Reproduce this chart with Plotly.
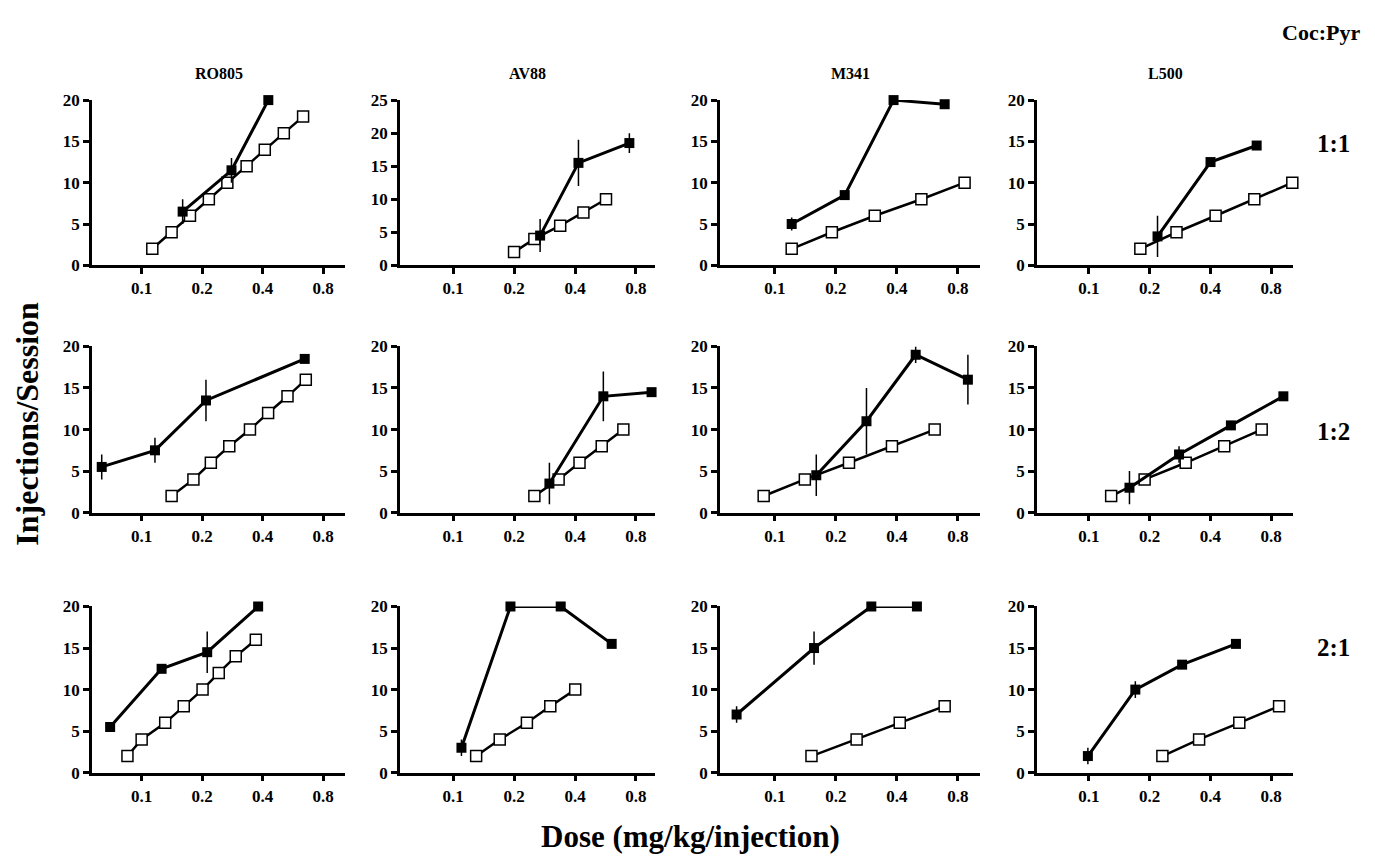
import plotly.graph_objects as go

# ---------------- data ----------------
strains = ["RO805", "AV88", "M341", "L500"]
ratios = ["1:1", "1:2", "2:1"]
x_ticks = [0.1, 0.2, 0.4, 0.8]
x_tick_labels = ["0.1", "0.2", "0.4", "0.8"]

# Row 1:1
RO805_11_open_x = [0.113, 0.141, 0.174, 0.216, 0.267, 0.333, 0.410, 0.510, 0.636]
RO805_11_open_y = [2, 4, 6, 8, 10, 12, 14, 16, 18]
RO805_11_fill_x = [0.160, 0.280, 0.427]
RO805_11_fill_y = [6.5, 11.5, 20]
RO805_11_fill_e = [1.5, 1.5, 0]

AV88_11_open_x = [0.200, 0.252, 0.338, 0.440, 0.569]
AV88_11_open_y = [2, 4, 6, 8, 10]
AV88_11_fill_x = [0.269, 0.416, 0.742]
AV88_11_fill_y = [4.5, 15.5, 18.5]
AV88_11_fill_e = [2.5, 3.5, 1.5]

M341_11_open_x = [0.121, 0.191, 0.311, 0.528, 0.863]
M341_11_open_y = [2, 4, 6, 8, 10]
M341_11_fill_x = [0.121, 0.221, 0.385, 0.688]
M341_11_fill_y = [5, 8.5, 20, 19.5]
M341_11_fill_e = [0.8, 0, 0, 0]

L500_11_open_x = [0.180, 0.272, 0.425, 0.661, 1.02]
L500_11_open_y = [2, 4, 6, 8, 10]
L500_11_fill_x = [0.219, 0.401, 0.679]
L500_11_fill_y = [3.5, 12.5, 14.5]
L500_11_fill_e = [2.5, 0, 0]

# Row 1:2
RO805_12_open_x = [0.141, 0.181, 0.221, 0.273, 0.346, 0.426, 0.532, 0.656]
RO805_12_open_y = [2, 4, 6, 8, 10, 12, 14, 16]
RO805_12_fill_x = [0.0633, 0.1165, 0.209, 0.648]
RO805_12_fill_y = [5.5, 7.5, 13.5, 18.5]
RO805_12_fill_e = [1.5, 1.5, 2.5, 0]

AV88_12_open_x = [0.252, 0.332, 0.421, 0.542, 0.693]
AV88_12_open_y = [2, 4, 6, 8, 10]
AV88_12_fill_x = [0.299, 0.552, 0.955]
AV88_12_fill_y = [3.5, 14, 14.5]
AV88_12_fill_e = [2.5, 3, 0]

M341_12_open_x = [0.088, 0.1405, 0.232, 0.378, 0.614]
M341_12_open_y = [2, 4, 6, 8, 10]
M341_12_fill_x = [0.160, 0.283, 0.495, 0.896]
M341_12_fill_y = [4.5, 11, 19, 16]
M341_12_fill_e = [2.5, 4, 1, 3]

L500_12_open_x = [0.129, 0.189, 0.302, 0.469, 0.719]
L500_12_open_y = [2, 4, 6, 8, 10]
L500_12_fill_x = [0.159, 0.280, 0.506, 0.921]
L500_12_fill_y = [3, 7, 10.5, 14]
L500_12_fill_e = [2, 1, 0, 0]

# Row 2:1
RO805_21_open_x = [0.085, 0.100, 0.131, 0.162, 0.201, 0.242, 0.294, 0.370]
RO805_21_open_y = [2, 4, 6, 8, 10, 12, 14, 16]
RO805_21_fill_x = [0.0697, 0.1257, 0.212, 0.380]
RO805_21_fill_y = [5.5, 12.5, 14.5, 20]
RO805_21_fill_e = [0, 0, 2.5, 0]

AV88_21_open_x = [0.130, 0.170, 0.2315, 0.302, 0.401]
AV88_21_open_y = [2, 4, 6, 8, 10]
AV88_21_fill_x = [0.110, 0.192, 0.340, 0.607]
AV88_21_fill_y = [3, 20, 20, 15.5]
AV88_21_fill_e = [1, 0, 0, 0]

M341_21_open_x = [0.1515, 0.253, 0.413, 0.688]
M341_21_open_y = [2, 4, 6, 8]
M341_21_fill_x = [0.0647, 0.156, 0.299, 0.502]
M341_21_fill_y = [7, 15, 20, 20]
M341_21_fill_e = [1, 2, 0, 0]

L500_21_open_x = [0.2315, 0.352, 0.557, 0.877]
L500_21_open_y = [2, 4, 6, 8]
L500_21_fill_x = [0.0989, 0.170, 0.290, 0.536]
L500_21_fill_y = [2, 10, 13, 15.5]
L500_21_fill_e = [1, 1, 0, 0]

panels = [
    [(RO805_11_open_x, RO805_11_open_y, RO805_11_fill_x, RO805_11_fill_y, RO805_11_fill_e),
     (AV88_11_open_x, AV88_11_open_y, AV88_11_fill_x, AV88_11_fill_y, AV88_11_fill_e),
     (M341_11_open_x, M341_11_open_y, M341_11_fill_x, M341_11_fill_y, M341_11_fill_e),
     (L500_11_open_x, L500_11_open_y, L500_11_fill_x, L500_11_fill_y, L500_11_fill_e)],
    [(RO805_12_open_x, RO805_12_open_y, RO805_12_fill_x, RO805_12_fill_y, RO805_12_fill_e),
     (AV88_12_open_x, AV88_12_open_y, AV88_12_fill_x, AV88_12_fill_y, AV88_12_fill_e),
     (M341_12_open_x, M341_12_open_y, M341_12_fill_x, M341_12_fill_y, M341_12_fill_e),
     (L500_12_open_x, L500_12_open_y, L500_12_fill_x, L500_12_fill_y, L500_12_fill_e)],
    [(RO805_21_open_x, RO805_21_open_y, RO805_21_fill_x, RO805_21_fill_y, RO805_21_fill_e),
     (AV88_21_open_x, AV88_21_open_y, AV88_21_fill_x, AV88_21_fill_y, AV88_21_fill_e),
     (M341_21_open_x, M341_21_open_y, M341_21_fill_x, M341_21_fill_y, M341_21_fill_e),
     (L500_21_open_x, L500_21_open_y, L500_21_fill_x, L500_21_fill_y, L500_21_fill_e)],
]

# ---------------- layout ----------------
# The page body has an 8px margin, so the figure is 16px smaller and all
# page-pixel positions below are shifted by OFF.
PAGE_W, PAGE_H = 1375, 864
OFF = 8
W, H = PAGE_W - 2 * OFF, PAGE_H - 2 * OFF
FONT = "Liberation Serif"
col_px = [(92, 345), (400, 655), (720, 980), (1037, 1293)]
row_px = [(93, 262), (345, 515), (611, 781)]
x_ranges = [(-1.247, 0.012), (-1.262, -0.003), (-1.271, 0.012), (-1.257, 0.012)]
ratio_y_px = [137, 432, 653]


def fx_(px):
    return (px - OFF) / W


def fy_(py):
    return 1 - (py - OFF) / H


tick_font = dict(family=FONT, size=17, color="black", weight="bold")

fig = go.Figure()
layout = dict(
    width=W, height=H,
    margin=dict(l=0, r=0, t=0, b=0),
    paper_bgcolor="white", plot_bgcolor="white",
    showlegend=False,
    font=dict(family=FONT, color="black"),
)

for r in range(3):
    for c in range(4):
        k = r * 4 + c + 1
        xn = "x" if k == 1 else f"x{k}"
        yn = "y" if k == 1 else f"y{k}"
        ox, oy, fx, fy, fe = panels[r][c]
        fig.add_trace(go.Scatter(
            x=ox, y=oy, xaxis=xn, yaxis=yn, mode="lines+markers",
            line=dict(color="black", width=2.5),
            marker=dict(symbol="square", size=11, color="white",
                        line=dict(color="black", width=1.5)),
            cliponaxis=False,
        ))
        fig.add_trace(go.Scatter(
            x=fx, y=fy, xaxis=xn, yaxis=yn, mode="lines+markers",
            line=dict(color="black", width=3),
            marker=dict(symbol="square", size=10, color="black"),
            error_y=dict(type="data", array=fe, visible=True, width=0,
                         thickness=1.5, color="black"),
            cliponaxis=False,
        ))
        x0, x1 = col_px[c]
        y0, y1 = row_px[r]
        ymax = 25 if (r == 0 and c == 1) else 20
        axkey = "xaxis" if k == 1 else f"xaxis{k}"
        aykey = "yaxis" if k == 1 else f"yaxis{k}"
        layout[axkey] = dict(
            domain=[fx_(x0), fx_(x1)], anchor=yn, type="log",
            range=list(x_ranges[c]),
            tickvals=x_ticks, ticktext=x_tick_labels,
            showline=True, linecolor="black", linewidth=2.5,
            ticks="outside", ticklen=6, tickwidth=2.5, tickcolor="black",
            showgrid=False, zeroline=False, tickfont=tick_font,
        )
        layout[aykey] = dict(
            domain=[fy_(y1), fy_(y0)], anchor=xn,
            range=[0, ymax], tickmode="linear", tick0=0, dtick=5,
            showline=True, linecolor="black", linewidth=2.5,
            ticks="outside", ticklen=6, tickwidth=2.5, tickcolor="black",
            showgrid=False, zeroline=False, tickfont=tick_font,
        )

annotations = []
for c, name in enumerate(strains):
    x0, x1 = col_px[c]
    annotations.append(dict(
        text=name, x=fx_((x0 + x1) / 2), y=fy_(66), xref="paper", yref="paper",
        showarrow=False, xanchor="center", yanchor="middle",
        font=dict(family=FONT, size=16, color="black", weight="bold"),
    ))
for r, rt in enumerate(ratios):
    annotations.append(dict(
        text=rt, x=fx_(1333), y=fy_(ratio_y_px[r]), xref="paper", yref="paper",
        showarrow=False, xanchor="center", yanchor="middle",
        font=dict(family=FONT, size=25, color="black", weight="bold"),
    ))
annotations.append(dict(
    text="Coc:Pyr", x=fx_(1362), y=fy_(24), xref="paper", yref="paper",
    showarrow=False, xanchor="right", yanchor="middle",
    font=dict(family=FONT, size=22, color="black", weight="bold"),
))
annotations.append(dict(
    text="Injections/Session", x=fx_(27), y=fy_(424), xref="paper", yref="paper",
    showarrow=False, xanchor="center", yanchor="middle", textangle=-90,
    font=dict(family=FONT, size=32, color="black", weight="bold"),
))
annotations.append(dict(
    text="Dose (mg/kg/injection)", x=fx_(690), y=fy_(846), xref="paper", yref="paper",
    showarrow=False, xanchor="center", yanchor="middle",
    font=dict(family=FONT, size=31, color="black", weight="bold"),
))
layout["annotations"] = annotations

fig.update_layout(**layout)
fig.write_html("out.html")
